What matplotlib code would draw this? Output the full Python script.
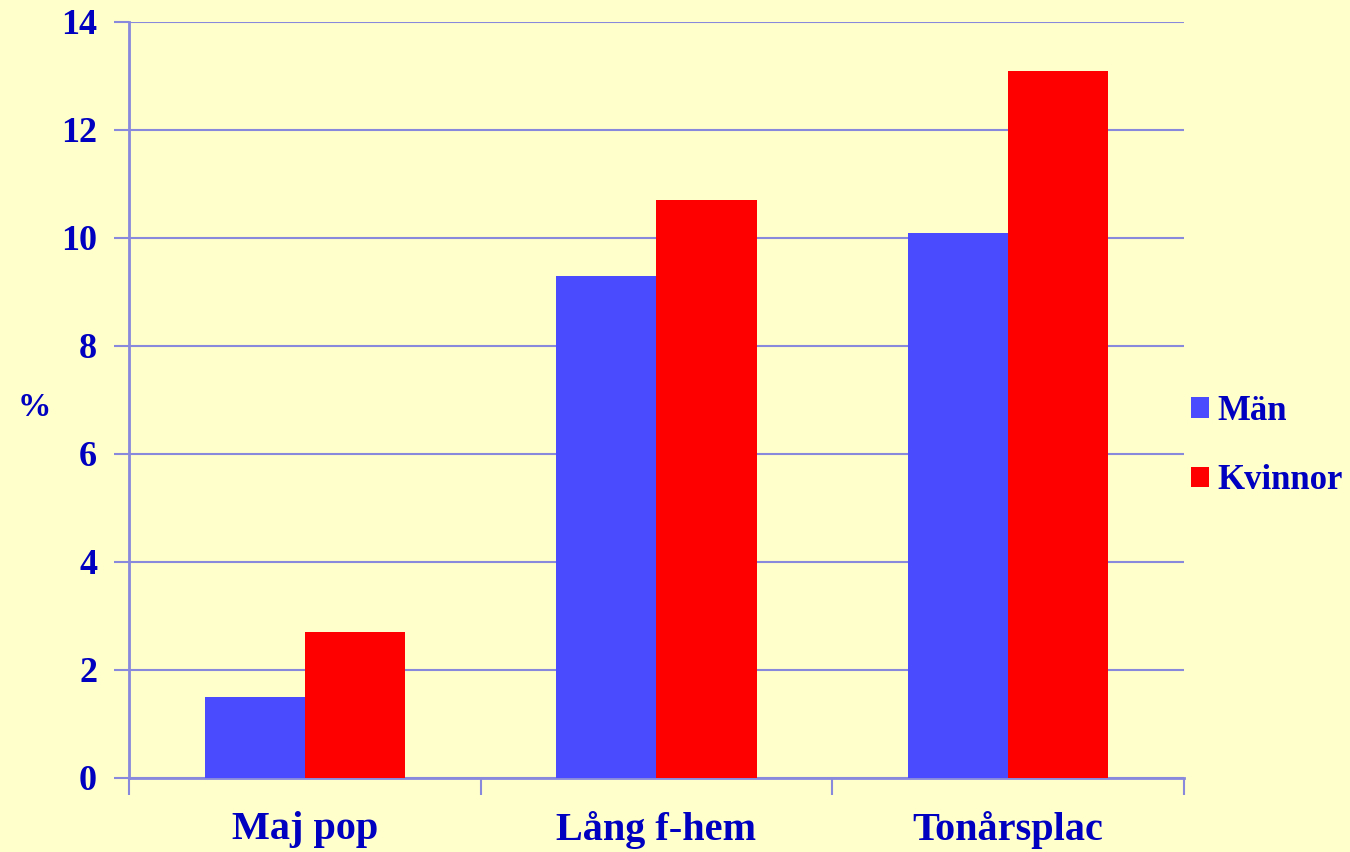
import numpy as np
import matplotlib.pyplot as plt

categories = ['Maj pop', 'Lång f-hem', 'Tonårsplac']
man = [1.5, 9.3, 10.1]
kvinnor = [2.7, 10.7, 13.1]
yticks = [0, 2, 4, 6, 8, 10, 12, 14]

bg = '#FFFFCC'
txt = '#0000C0'
grid = '#8888DD'

plt.rcParams['font.family'] = ['Liberation Serif', 'DejaVu Serif']
plt.rcParams['font.weight'] = 'bold'

fig = plt.figure(figsize=(13.5, 8.52), dpi=100, facecolor=bg)
ax = fig.add_axes([0.0956, 0.0869, 0.7812, 0.8873], facecolor=bg)

x = np.arange(len(categories))
w = 0.285
ax.bar(x - w / 2, man, w, color='#4A4AFF', label='Män', zorder=3)
ax.bar(x + w / 2, kvinnor, w, color='#FF0000', label='Kvinnor', zorder=3)

ax.set_xlim(-0.5, len(categories) - 0.5)
ax.set_ylim(0, 14)
ax.set_yticks(yticks)
ax.set_yticklabels([str(v) for v in yticks], fontsize=26, color=txt, fontweight='bold')
ax.yaxis.grid(True, color=grid, linewidth=1.5, zorder=0)
ax.tick_params(axis='y', length=11, width=1.5, color=grid, pad=12)

# category labels between boundary ticks
ax.set_xticks(x)
ax.set_xticklabels(categories, fontsize=29, color=txt, fontweight='bold')
ax.tick_params(axis='x', length=0, pad=24)
ax.set_xticks(np.arange(len(categories) + 1) - 0.5, minor=True)
ax.tick_params(axis='x', which='minor', length=12, width=1.5, color=grid)

for s in ['top', 'right']:
    ax.spines[s].set_visible(False)
for s in ['left', 'bottom']:
    ax.spines[s].set_color(grid)
    ax.spines[s].set_linewidth(2)

fig.text(34 / 1350, 1 - 407 / 852, '%', fontsize=24, color=txt, fontweight='bold',
         ha='center', va='center')

leg = ax.legend(loc='center left', bbox_to_anchor=(1.0066, 0.439), frameon=False,
                handlelength=0.54, handleheight=0.54, handletextpad=0.24,
                labelspacing=1.05, borderaxespad=0, borderpad=0,
                prop={'size': 25, 'weight': 'bold', 'family': 'Liberation Serif'})
for t in leg.get_texts():
    t.set_color(txt)

fig.savefig('out.png', dpi=100, facecolor=bg)
